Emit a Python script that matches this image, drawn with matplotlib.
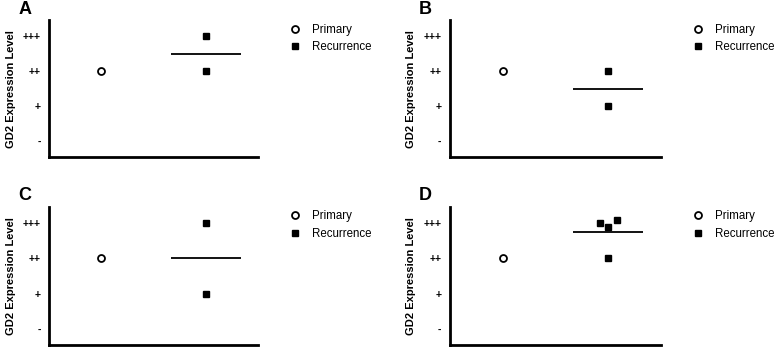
import numpy as np
import matplotlib
matplotlib.use('Agg')
import matplotlib.pyplot as plt

plt.rcParams['font.family'] = ['Liberation Sans', 'DejaVu Sans']

# 数据
panel_labels = ['A', 'B', 'C', 'D']
level_labels = ['-', '+', '++', '+++']
primary = [[2], [2], [2], [2]]
recurrence = [[3, 2], [2, 1], [3, 1], [3.0, 2.9, 3.1, 2]]
recurrence_spread = [[0, 0], [0, 0], [0, 0], [-0.08, 0, 0.08, 0]]

fig = plt.figure(figsize=(7.78, 3.5), dpi=100)

# 每个子图的位置 (left, bottom, width, height)
boxes = [(0.063, 0.551, 0.269, 0.391), (0.578, 0.551, 0.272, 0.391),
         (0.063, 0.014, 0.269, 0.394), (0.578, 0.014, 0.272, 0.394)]

for i, box in enumerate(boxes):
    ax = fig.add_axes(box)
    ax.plot([1] * len(primary[i]), primary[i], 'o', markersize=5,
            markerfacecolor='white', markeredgecolor='black', markeredgewidth=1.3,
            linestyle='none', label='Primary')
    xs = 2 + np.array(recurrence_spread[i])
    ax.plot(xs, recurrence[i], 's', markersize=5, color='black',
            linestyle='none', label='Recurrence')
    ax.hlines(np.mean(recurrence[i]), 2 - 0.33, 2 + 0.33, color='black', linewidth=1.3)

    ax.set_xlim(0.5, 2.5)
    ax.set_ylim(-0.45, 3.45)
    ax.set_xticks([])
    ax.set_yticks(range(4))
    ax.set_yticklabels(level_labels, fontsize=7.5, fontweight='bold')
    ax.tick_params(axis='y', length=0, pad=6)
    ax.set_ylabel('GD2 Expression Level', fontsize=8, fontweight='bold', labelpad=5)
    for s in ['top', 'right']:
        ax.spines[s].set_visible(False)
    for s in ['left', 'bottom']:
        ax.spines[s].set_linewidth(2)

    ax.legend(loc='upper left', bbox_to_anchor=(1.125, 1.01), frameon=False,
              fontsize=8.3, handletextpad=1.0, labelspacing=0.45, borderaxespad=0,
              handlelength=1.0)
    ax.text(-0.115, 1.02, panel_labels[i], transform=ax.transAxes,
            fontsize=13, fontweight='bold', va='bottom', ha='center')

fig.savefig('out.png', dpi=100)
